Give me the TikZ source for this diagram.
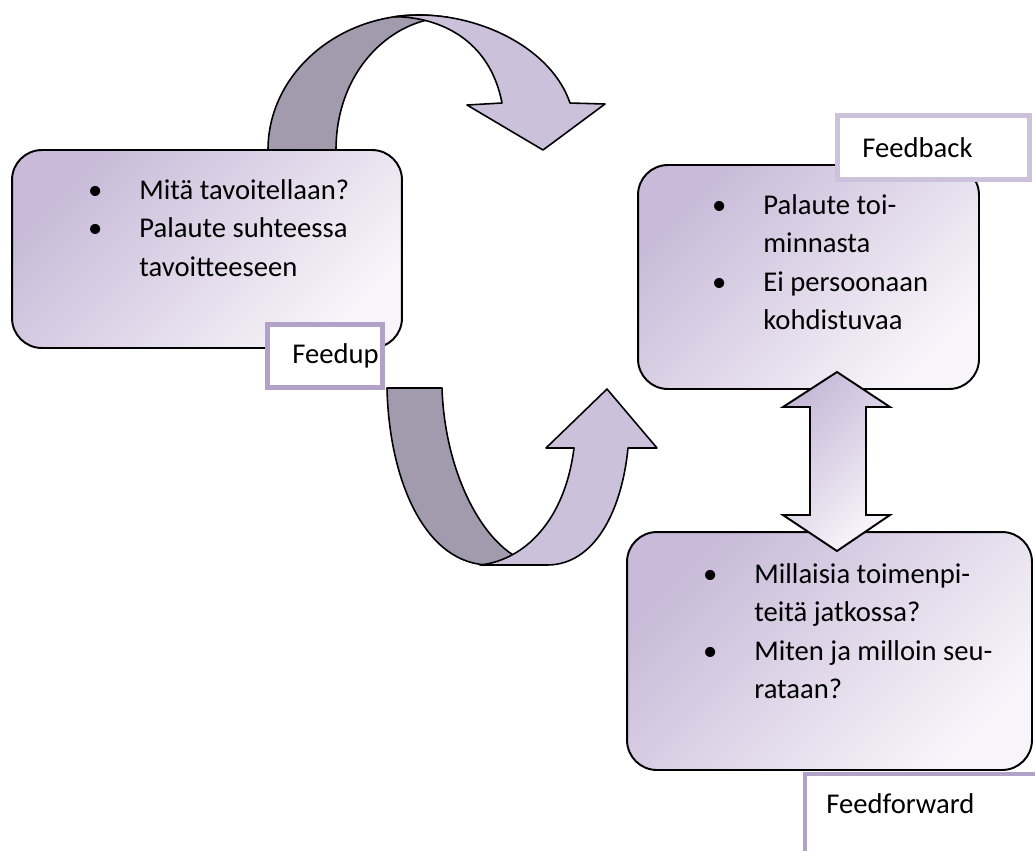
\documentclass[tikz,border=0pt]{standalone}
\usepackage{fontspec}
\setmainfont{Carlito}

\definecolor{boxtop}{RGB}{200,186,216}
\definecolor{boxbot}{RGB}{247,245,250}
\definecolor{bandback}{RGB}{162,154,173}
\definecolor{bandfront}{RGB}{204,193,218}
\definecolor{tagline}{RGB}{179,162,199}
\definecolor{tagpale}{RGB}{205,194,219}

\newcommand\bul{\llap{\textbullet\hspace{21pt}}}

\begin{document}
\begin{tikzpicture}[x=0.02cm, y=-0.02cm,
    box/.style={draw, line width=1.1pt, rounded corners=17pt, top color=boxtop, bottom color=boxbot, shading angle=45},
    band/.style={draw, line width=0.9pt, line join=round},
    tag/.style={draw=tagline, line width=2.8pt, fill=white},
    txt/.style={font=\fontsize{16.3}{21.8}\selectfont, align=left, inner sep=0pt}]

    \useasboundingbox (0,0) rectangle (1035,850);
    \clip (0,0) rectangle (1035,850);

    % Top arrow
    \draw[band, fill=bandback] (268,150) .. controls (268,75) and (336,15) .. (419,15) .. controls (430,15) and (440,16.5) .. (448,17.3)
        .. controls (392,18) and (336,70) .. (336,150) -- cycle;
    \draw[band, fill=bandfront] (395,16.7) .. controls (403,15.5) and (411,15) .. (419,15) .. controls (484,15) and (552,50) .. (570,103)
        -- (605,104) -- (543,150) -- (467,105) -- (502,103) .. controls (490,40) and (440,17) .. (395,16.7) -- cycle;

    % Bottom arrow
    \draw[band, fill=bandback] (387,388) .. controls (389,480) and (425,565) .. (490,565) -- (540,565)
        .. controls (490,560) and (445,480) .. (442,388) -- cycle;
    \draw[band, fill=bandfront] (480,565) -- (547,565) .. controls (595,565) and (622,510) .. (628,448)
        -- (657,448) -- (607,389) -- (546,448) -- (574,448) .. controls (565,520) and (525,560) .. (480,565) -- cycle;

    % Boxes
    \node[box, minimum width=7.8cm, minimum height=3.96cm] (goal) at (207,249) {};
    \node[box, minimum width=6.82cm, minimum height=4.48cm] (back) at (808.5,277) {};
    \node[box, minimum width=8.1cm, minimum height=4.76cm] (fwd) at (829.5,651) {};

    \node[txt, anchor=north west] (goaltxt) at (139,172.5) {\strut\bul Mitä tavoitellaan?\\\bul Palaute suhteessa\\tavoitteeseen};
    \node[txt, anchor=north west] (backtxt) at (763,187.5) {\strut\bul Palaute toi-\\minnasta\\\bul Ei persoonaan\\kohdistuvaa};
    \node[txt, anchor=north west] (fwdtxt) at (754,556.5) {\strut\bul Millaisia toimenpi-\\teitä jatkossa?\\\bul Miten ja milloin seu-\\rataan?};

    % Double arrow
    \draw[line width=1.1pt, top color=boxtop, bottom color=boxbot, shading angle=45] (837,372) -- (890,407) -- (866,407) -- (866,515)
        -- (890,515) -- (837,551) -- (783,515) -- (810,515) -- (810,407) -- (783,407) -- cycle;

    % Labels
    \node[tag, minimum width=2.3cm, minimum height=1.26cm] (up) at (325,356) {};
    \node[txt, anchor=base west] (uptxt) at (292,363) {Feedup};
    \node[tag, draw=tagpale, minimum width=3.84cm, minimum height=1.28cm] (bk) at (933.5,147.5) {};
    \node[txt, anchor=base west] (bktxt) at (862,157) {Feedback};
    \node[tag, minimum width=4.8cm, minimum height=1.72cm] (fw) at (925,817) {};
    \node[txt, anchor=base west] (fwtxt) at (826,813) {Feedforward};

\end{tikzpicture}
\end{document}
